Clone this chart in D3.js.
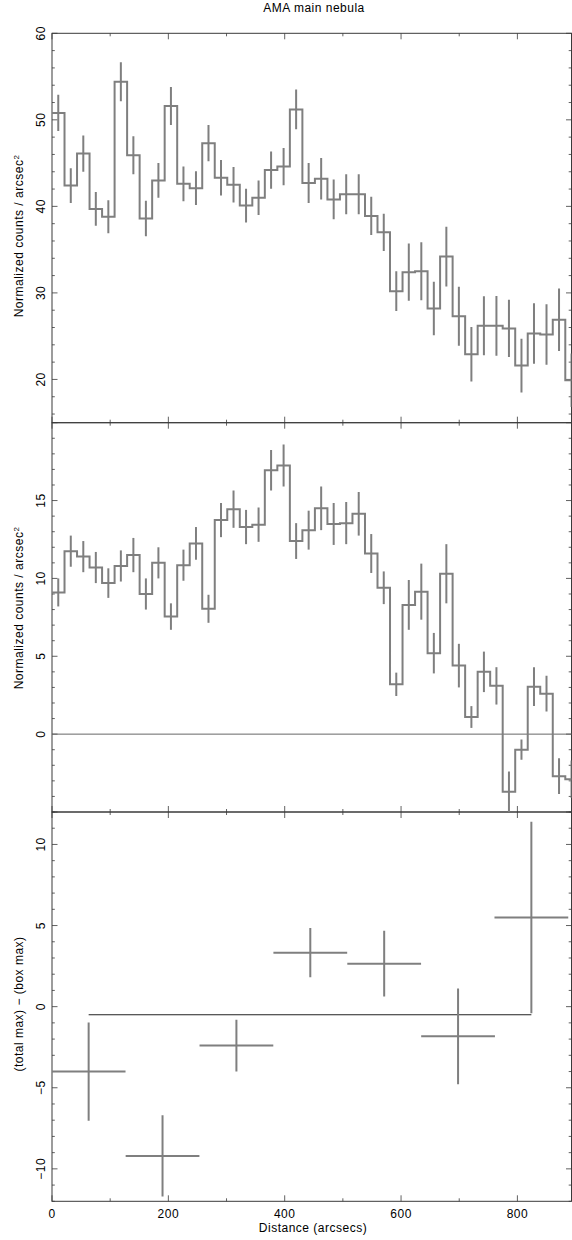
<!DOCTYPE html>
<html><head><meta charset="utf-8">
<script src="https://cdn.jsdelivr.net/npm/d3@7"></script>
<style>
body{margin:0;background:#fff;}
text{font-family:"Liberation Sans",Arial,Helvetica,sans-serif;fill:#000;}
</style></head>
<body><svg id="c" width="572" height="1240"></svg>
<script>
// ---- data ----
const title = "AMA main nebula";
const binWidth = 21.52; // arcsec per fine bin
const totalVals = [50.8,42.4,46.1,39.7,38.8,54.4,45.9,38.6,43.0,51.6,42.6,42.1,47.3,43.3,42.5,40.1,41.0,44.2,44.6,51.2,42.7,43.2,40.8,41.4,41.4,38.9,37.0,30.2,32.4,32.5,28.2,34.2,27.3,22.9,26.2,26.2,25.9,21.6,25.3,25.2,26.9,19.9];
const totalErr = [2.1,2.0,2.1,1.95,1.9,2.25,2.2,2.05,2.0,2.2,2.0,1.95,2.1,2.05,2.05,1.95,2.0,2.15,2.15,2.3,2.3,2.4,2.3,2.3,2.3,2.2,2.15,2.3,3.3,3.35,3.1,3.45,3.4,3.15,3.4,3.45,3.3,3.1,3.5,3.5,3.6,3.1];
const boxVals = [9.1,11.75,11.4,10.7,9.7,10.8,11.5,9.0,11.0,7.55,10.85,12.25,8.05,13.75,14.45,13.3,13.45,16.95,17.25,12.4,13.1,14.5,13.5,13.55,14.15,11.6,9.4,3.2,8.3,9.15,5.2,10.3,4.4,1.1,4.0,3.1,-3.7,-1.0,3.05,2.6,-2.7,-2.9];
const boxErr = [0.9,1.0,1.0,1.0,0.95,1.0,1.1,1.0,1.0,0.85,1.0,1.05,0.9,1.1,1.2,1.1,1.1,1.3,1.35,1.15,1.25,1.4,1.35,1.35,1.4,1.25,1.05,0.75,1.6,1.8,1.3,1.9,1.4,0.7,1.3,1.2,1.3,0.65,1.25,1.15,1.15,1.2];
const diffX = [63,190,317,444,571,698,824];
const diffVals = [-4.0,-9.2,-2.4,3.33,2.65,-1.83,5.5];
const diffErr = [3.03,2.5,1.6,1.52,2.03,2.95,5.9];
const diffXErr = 63.4;
const diffMean = -0.5;
const xTicks = [0,200,400,600,800];
const xLabel = "Distance (arcsecs)";
const yLabel1 = "Normalized counts / arcsec";
const yLabel3 = "(total max) \u2212 (box max)";

// ---- layout ----
const svg = d3.select("#c");
const L = 52, R = 571.5;
const x = d3.scaleLinear().domain([0, 893]).range([L, R]);
const panels = [
  {top:33.3, bot:422.7, dom:[15,60], major:[20,30,40,50,60], minorStep:2, labels:[20,30,40,50,60], labelY:236},
  {top:422.7, bot:812, dom:[-5,20], major:[-5,0,5,10,15,20], minorStep:1, labels:[0,5,10,15], labelY:608},
  {top:812, bot:1201.3, dom:[-12,12], major:[-10,-5,0,5,10], minorStep:1, labels:[-10,-5,0,5,10], labelY:1004}
];
panels.forEach(p => p.y = d3.scaleLinear().domain(p.dom).range([p.bot, p.top]));

const markColor = "#7f7f7f", axisColor = "#3a3a3a";
const fmt = v => v < 0 ? "\u2212" + Math.abs(v) : String(v);
const FS = 12, LS = 0.5;

// clip paths
const defs = svg.append("defs");
panels.forEach((p,i) => {
  defs.append("clipPath").attr("id","clip"+i).append("rect")
    .attr("x",L).attr("y",p.top).attr("width",R-L).attr("height",p.bot-p.top);
});

// axes / frames
panels.forEach((p,i) => {
  const g = svg.append("g");
  const minorY = d3.range(Math.ceil(p.dom[0]/p.minorStep)*p.minorStep, p.dom[1]+1e-9, p.minorStep);
  const majY = p.major;
  minorY.forEach(v => {
    const isMaj = majY.some(m => Math.abs(m-v)<1e-9);
    const len = isMaj ? 5.5 : 2.8;
    g.append("line").attr("x1",L).attr("x2",L+len).attr("y1",p.y(v)).attr("y2",p.y(v)).attr("stroke",axisColor).attr("stroke-width",0.8);
    g.append("line").attr("x1",R).attr("x2",R-len).attr("y1",p.y(v)).attr("y2",p.y(v)).attr("stroke",axisColor).attr("stroke-width",0.8);
  });
  d3.range(0, 893, 100).forEach(v => {
    const len = (v % 200 === 0) ? 6 : 3;
    g.append("line").attr("x1",x(v)).attr("x2",x(v)).attr("y1",p.top).attr("y2",p.top+len).attr("stroke",axisColor).attr("stroke-width",0.8);
    g.append("line").attr("x1",x(v)).attr("x2",x(v)).attr("y1",p.bot).attr("y2",p.bot-len).attr("stroke",axisColor).attr("stroke-width",0.8);
  });
  g.append("rect").attr("x",L).attr("y",p.top).attr("width",R-L).attr("height",p.bot-p.top)
    .attr("fill","none").attr("stroke",axisColor).attr("stroke-width",1);
  p.labels.forEach(v => {
    svg.append("text").attr("transform",`translate(45,${p.y(v)}) rotate(-90)`)
      .attr("text-anchor","middle").attr("font-size",FS).attr("letter-spacing",LS).text(fmt(v));
  });
});

// Title
svg.append("text").attr("x",314).attr("y",11.7).attr("text-anchor","middle").attr("font-size",FS).attr("letter-spacing",LS).text(title);

// y labels
function yTitle(text, cy, sup){
  const t = svg.append("text").attr("transform",`translate(23.3,${cy}) rotate(-90)`)
    .attr("text-anchor","middle").attr("font-size",FS).attr("letter-spacing",LS);
  t.append("tspan").text(text);
  if (sup) t.append("tspan").attr("dy",-4.5).attr("font-size",8).text(sup);
}
panels.forEach((p,i) => yTitle(i<2 ? yLabel1 : yLabel3, p.labelY, i<2 ? "2" : null));

// x tick labels
xTicks.forEach(v => {
  svg.append("text").attr("x",x(v)).attr("y",1217.7).attr("text-anchor","middle").attr("font-size",FS).attr("letter-spacing",LS).text(v);
});
svg.append("text").attr("x",313).attr("y",1231.7).attr("text-anchor","middle").attr("font-size",FS).attr("letter-spacing",LS).text(xLabel);

// zero line in panel 2
svg.append("line").attr("x1",L).attr("x2",R).attr("y1",panels[1].y(0)).attr("y2",panels[1].y(0))
  .attr("stroke","#666").attr("stroke-width",1);

// histogram steps + error bars
function stepPanel(vals, errs, p, i){
  const pts = [];
  vals.forEach((v,k) => { pts.push([k*binWidth, v]); pts.push([(k+1)*binWidth, v]); });
  const line = d3.line().x(d => x(d[0])).y(d => p.y(d[1]));
  const g = svg.append("g").attr("clip-path",`url(#clip${i})`);
  g.append("path").attr("d", line(pts)).attr("fill","none").attr("stroke",markColor).attr("stroke-width",2);
  g.selectAll("line.err").data(vals).join("line")
    .attr("x1",(d,k)=>x((k+0.5)*binWidth)).attr("x2",(d,k)=>x((k+0.5)*binWidth))
    .attr("y1",(d,k)=>p.y(d+errs[k])).attr("y2",(d,k)=>p.y(d-errs[k]))
    .attr("stroke",markColor).attr("stroke-width",2);
}
stepPanel(totalVals, totalErr, panels[0], 0);
stepPanel(boxVals, boxErr, panels[1], 1);

// panel 3
{
  const p = panels[2];
  const g = svg.append("g").attr("clip-path","url(#clip2)");
  g.append("line").attr("x1",x(diffX[0])).attr("x2",x(diffX[diffX.length-1]))
    .attr("y1",p.y(diffMean)).attr("y2",p.y(diffMean)).attr("stroke","#222").attr("stroke-width",1);
  g.selectAll("line.v").data(diffVals).join("line")
    .attr("x1",(d,k)=>x(diffX[k])).attr("x2",(d,k)=>x(diffX[k]))
    .attr("y1",(d,k)=>p.y(d+diffErr[k])).attr("y2",(d,k)=>p.y(d-diffErr[k]))
    .attr("stroke",markColor).attr("stroke-width",2);
  g.selectAll("line.h").data(diffVals).join("line")
    .attr("x1",(d,k)=>x(diffX[k]-diffXErr)).attr("x2",(d,k)=>x(diffX[k]+diffXErr))
    .attr("y1",d=>p.y(d)).attr("y2",d=>p.y(d))
    .attr("stroke",markColor).attr("stroke-width",2);
}
</script></body></html>
